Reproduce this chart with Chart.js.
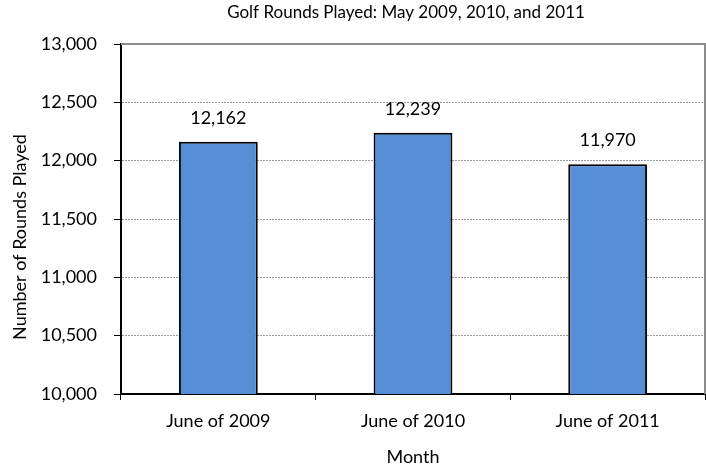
<!DOCTYPE html>
<html>
<head>
<meta charset="utf-8">
<script src="https://cdn.jsdelivr.net/npm/chart.js@4"></script>
<style>
  html, body { margin: 0; padding: 0; background: #fff; }
  #wrap { width: 706px; height: 469px; }
</style>
</head>
<body>
<div id="wrap"><canvas id="golfChart" width="706" height="469"></canvas></div>
<script>
const months = ['June of 2009', 'June of 2010', 'June of 2011'];
const roundsPlayed = [12162, 12239, 11970];
const yMin = 10000;
const yMax = 13000;
const yStep = 500;

const chartTitle = 'Golf Rounds Played: May 2009, 2010, and 2011';
const yTitle = 'Number of Rounds Played';
const xTitle = 'Month';

const FONT = 'Lato, "Noto Sans", sans-serif';
const fmt = (v) => v.toLocaleString('en-US');

// value labels above each bar
const barLabels = {
    id: 'barLabels',
    afterDatasetsDraw(chart) {
        const ctx = chart.ctx;
        const meta = chart.getDatasetMeta(0);
        ctx.save();
        ctx.font = '18px ' + FONT;
        ctx.fillStyle = '#000';
        ctx.textAlign = 'center';
        ctx.textBaseline = 'middle';
        meta.data.forEach((bar, i) => {
            ctx.fillText(fmt(roundsPlayed[i]), bar.x, bar.y - 24);
        });
        ctx.restore();
    }
};

// gray frame on top/right of the plot, plus chart title and y-axis title
const frameAndTitles = {
    id: 'frameAndTitles',
    beforeDatasetsDraw(chart) {
        const { ctx, chartArea: a } = chart;
        ctx.save();
        ctx.strokeStyle = '#8c8c8c';
        ctx.lineWidth = 2;
        ctx.beginPath();
        ctx.moveTo(a.left, a.top);
        ctx.lineTo(a.right, a.top);
        ctx.lineTo(a.right, a.bottom);
        ctx.stroke();
        ctx.restore();
    },
    afterDraw(chart) {
        const { ctx, chartArea: a } = chart;
        ctx.save();
        ctx.fillStyle = '#000';
        ctx.textAlign = 'center';
        ctx.textBaseline = 'middle';
        ctx.font = '17px ' + FONT;
        ctx.fillText(chartTitle, (a.left + a.right) / 2 - 7, 13);
        ctx.translate(20, (a.top + a.bottom) / 2 + 18);
        ctx.rotate(-Math.PI / 2);
        ctx.font = '18px ' + FONT;
        ctx.fillText(yTitle, 0, 0);
        ctx.restore();
    }
};

new Chart(document.getElementById('golfChart'), {
    type: 'bar',
    data: {
        labels: months,
        datasets: [{
            data: roundsPlayed,
            backgroundColor: '#558ed5',
            borderColor: '#000',
            borderWidth: 2,
            barPercentage: 0.405,
            categoryPercentage: 1
        }]
    },
    options: {
        responsive: false,
        animation: false,
        layout: { padding: { left: 0, right: 1, top: 44, bottom: 0 } },
        plugins: {
            legend: { display: false },
            tooltip: { enabled: false },
            title: { display: false }
        },
        scales: {
            x: {
                offset: true,
                grid: {
                    offset: true,
                    drawOnChartArea: false,
                    tickLength: 6,
                    tickColor: '#000',
                    tickWidth: 1
                },
                border: { color: '#000', width: 2 },
                ticks: {
                    color: '#000',
                    padding: 10,
                    font: { family: FONT, size: 18 }
                },
                title: {
                    display: true,
                    text: xTitle,
                    color: '#000',
                    font: { family: FONT, size: 18 },
                    padding: { top: 8, bottom: 1 }
                },
                afterFit(scale) { scale.height = 75; }
            },
            y: {
                min: yMin,
                max: yMax,
                ticks: {
                    stepSize: yStep,
                    color: '#000',
                    padding: 17,
                    font: { family: FONT, size: 18 },
                    callback: (v) => fmt(v)
                },
                grid: {
                    color: '#9a9a9a',
                    lineWidth: 1,
                    tickLength: 7,
                    tickColor: '#000',
                    tickBorderDash: []
                },
                border: { color: '#000', width: 2, dash: [2, 1] },
                afterFit(scale) { scale.width = 121; }
            }
        }
    },
    plugins: [frameAndTitles, barLabels]
});
</script>
</body>
</html>
